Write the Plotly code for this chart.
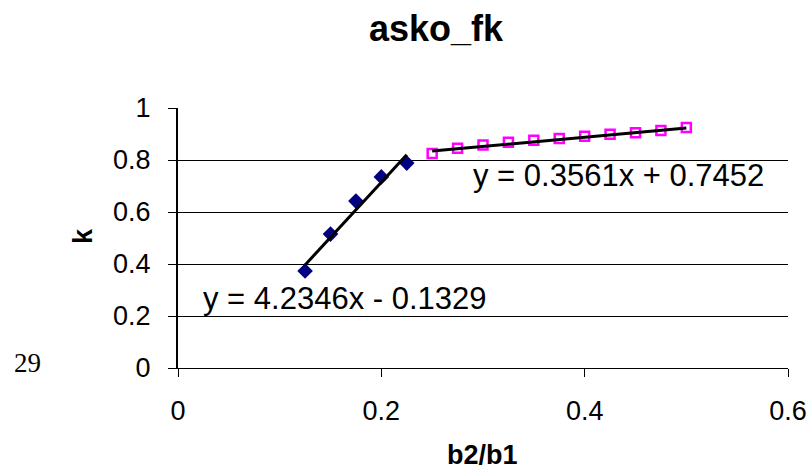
import plotly.graph_objects as go

# Data
x_blue = [0.125, 0.15, 0.175, 0.2, 0.225]
k_blue = [0.373, 0.515, 0.642, 0.735, 0.788]
x_pink = [0.25, 0.275, 0.3, 0.325, 0.35, 0.375, 0.4, 0.425, 0.45, 0.475, 0.5]
k_pink = [0.825, 0.845, 0.858, 0.868, 0.876, 0.883, 0.891, 0.899, 0.905, 0.913, 0.925]

# Trendline coefficients (as displayed)
blue_slope, blue_intercept = 4.2346, -0.1329
pink_slope, pink_intercept = 0.3561, 0.7452

x_ticks = [0, 0.2, 0.4, 0.6]
y_ticks = [0, 0.2, 0.4, 0.6, 0.8, 1]

W, H = 810, 474
L, R, T, B = 178, 22, 108, 106

def tl(xs, m, c):
    xe = [min(xs), max(xs)]
    return xe, [m * v + c for v in xe]

fig = go.Figure()
bx, by = tl(x_blue, blue_slope, blue_intercept)
px, py = tl(x_pink, pink_slope, pink_intercept)

fig.add_trace(go.Scatter(x=x_blue, y=k_blue, mode="markers",
                         marker=dict(symbol="diamond", size=12, color="#000080"),
                         showlegend=False))
fig.add_trace(go.Scatter(x=x_pink, y=k_pink, mode="markers",
                         marker=dict(symbol="square", size=9, color="white",
                                     line=dict(color="#FF00FF", width=2.5)),
                         showlegend=False))
fig.add_trace(go.Scatter(x=bx, y=by, mode="lines",
                         line=dict(color="black", width=3), showlegend=False))
fig.add_trace(go.Scatter(x=px, y=py, mode="lines",
                         line=dict(color="black", width=3), showlegend=False))

fig.update_layout(
    width=W, height=H,
    margin=dict(l=L, r=R, t=T, b=B, pad=0, autoexpand=False),
    plot_bgcolor="white", paper_bgcolor="white",
    font=dict(family="Liberation Sans, Arial, sans-serif", size=27, color="black"),
    xaxis=dict(range=[0, 0.6], tickvals=x_ticks, ticktext=[f"{v:g}" for v in x_ticks],
               showgrid=False, zeroline=False, showline=True, linecolor="black",
               linewidth=1, ticks="outside", ticklen=8, tickcolor="black",
               ticklabelstandoff=11, tickfont=dict(size=27), automargin=False),
    yaxis=dict(range=[0, 1], tickvals=y_ticks, ticktext=[f"{v:g}" for v in y_ticks],
               showgrid=True, gridcolor="black", gridwidth=1, zeroline=False,
               showline=True, linecolor="black", linewidth=2,
               ticks="outside", ticklen=8, tickcolor="black",
               ticklabelstandoff=12, tickfont=dict(size=27), automargin=False),
    annotations=[
        dict(text="<b>asko_fk</b>", x=436, y=H - 28, font=dict(size=36)),
        dict(text="<b>k</b>", x=83, y=H - 236, textangle=-90, font=dict(size=27)),
        dict(text="<b>b2/b1</b>", x=482, y=H - 455, font=dict(size=27)),
        dict(text="y = 0.3561x + 0.7452", x=618, y=H - 175, font=dict(size=31)),
        dict(text="y = 4.2346x - 0.1329", x=345, y=H - 298, font=dict(size=31)),
        dict(text="29", x=27, y=H - 363,
             font=dict(size=27, family="Liberation Serif, Times New Roman, serif")),
    ],
)

# convert pixel coordinates of annotations to paper fractions
for a in fig.layout.annotations:
    a.x = (a.x - L) / (W - L - R)
    a.y = (a.y - B) / (H - T - B)
    a.xref = "paper"
    a.yref = "paper"
    a.xanchor = "center"
    a.yanchor = "middle"
    a.showarrow = False

fig.write_html("out.html", config={"displayModeBar": False},
               post_script="document.body.style.margin='0px';")
